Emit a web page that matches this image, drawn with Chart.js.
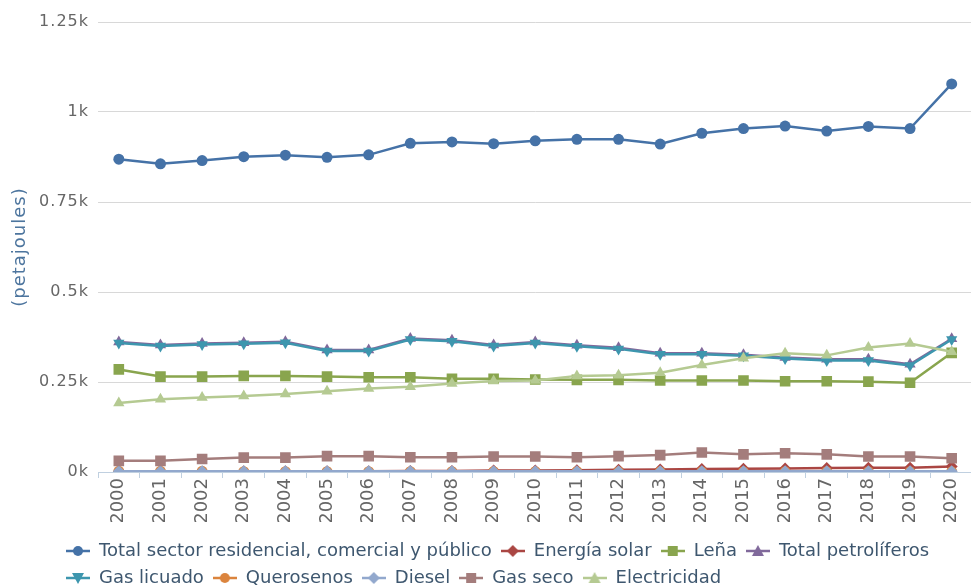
<!DOCTYPE html>
<html>
<head>
<meta charset="utf-8">
<script src="https://cdn.jsdelivr.net/npm/chart.js@4/dist/chart.umd.min.js"></script>
<style>
  html, body { margin: 0; padding: 0; background: #fff; overflow: hidden; }
  #wrap { width: 980px; height: 586px; }
</style>
</head>
<body>
<div id="wrap"><canvas id="energyChart"></canvas></div>
<script>
const years = ["2000", "2001", "2002", "2003", "2004", "2005", "2006", "2007", "2008", "2009", "2010",
  "2011", "2012", "2013", "2014", "2015", "2016", "2017", "2018", "2019", "2020"];

const totalSector = [869, 856, 865, 876, 880, 874, 881, 913, 917, 912, 920, 924, 924, 911, 941, 954, 961, 947, 960, 954, 1078];
const energiaSolar = [1, 1, 1, 2, 2, 2, 2, 3, 3, 4, 4, 5, 6, 7, 8, 9, 10, 11, 12, 12, 15];
const lena = [285, 265, 265, 267, 267, 265, 263, 263, 259, 259, 257, 256, 256, 254, 254, 254, 252, 252, 251, 248, 331];
const totalPetroliferos = [361, 353, 357, 359, 362, 339, 339, 371, 366, 353, 361, 352, 345, 330, 330, 326, 318, 313, 313, 299, 370];
const gasLicuado = [358, 350, 354, 356, 359, 336, 336, 368, 363, 350, 358, 349, 342, 327, 327, 323, 315, 310, 310, 296, 368];
const querosenos = [2, 2, 2, 1, 1, 1, 1, 1, 1, 1, 1, 1, 1, 1, 1, 1, 1, 1, 1, 1, 1];
const diesel = [2, 2, 2, 2, 2, 2, 2, 2, 2, 2, 2, 2, 2, 2, 2, 2, 2, 2, 2, 2, 2];
const gasSeco = [31, 31, 36, 40, 40, 44, 44, 41, 41, 43, 43, 41, 44, 47, 54, 49, 52, 49, 43, 43, 38];
const electricidad = [192, 202, 207, 211, 217, 224, 232, 237, 246, 253, 254, 267, 269, 276, 297, 316, 330, 324, 346, 357, 334];

const series = [
  { label: "Total sector residencial, comercial y público", data: totalSector, color: "#4572A7", shape: "circle" },
  { label: "Energía solar", data: energiaSolar, color: "#AA4643", shape: "diamond" },
  { label: "Leña", data: lena, color: "#89A54E", shape: "square" },
  { label: "Total petrolíferos", data: totalPetroliferos, color: "#80699B", shape: "triangle" },
  { label: "Gas licuado", data: gasLicuado, color: "#3D96AE", shape: "triangleDown" },
  { label: "Querosenos", data: querosenos, color: "#DB843D", shape: "circle" },
  { label: "Diesel", data: diesel, color: "#92A8CD", shape: "diamond" },
  { label: "Gas seco", data: gasSeco, color: "#A47D7C", shape: "square" },
  { label: "Electricidad", data: electricidad, color: "#B5CA92", shape: "triangle" }
];

// chart.js point style, rotation, radius for each marker shape
const markerStyles = {
  circle: ["circle", 0, 5.5],
  diamond: ["rectRot", 0, 6],
  square: ["rect", 0, 7.5],
  triangle: ["triangle", 0, 6.5],
  triangleDown: ["triangle", 180, 6.5]
};

const fontFamily = "'DejaVu Sans', 'Liberation Sans', sans-serif";

function drawMarker(g, shape, x, y) {
  g.beginPath();
  if (shape === "circle") {
    g.arc(x, y, 5, 0, Math.PI * 2);
  } else if (shape === "diamond") {
    g.moveTo(x, y - 6); g.lineTo(x + 6, y); g.lineTo(x, y + 6); g.lineTo(x - 6, y);
  } else if (shape === "square") {
    g.rect(x - 5, y - 5, 10, 10);
  } else if (shape === "triangle") {
    g.moveTo(x, y - 6); g.lineTo(x + 6, y + 5); g.lineTo(x - 6, y + 5);
  } else {
    g.moveTo(x, y + 6); g.lineTo(x + 6, y - 5); g.lineTo(x - 6, y - 5);
  }
  g.closePath();
  g.fill();
}

// legend symbol: short line with the marker on it
function legendSymbol(color, shape) {
  const c = document.createElement("canvas");
  c.width = 24;
  c.height = 16;
  const g = c.getContext("2d");
  g.strokeStyle = color;
  g.fillStyle = color;
  g.lineWidth = 2.5;
  g.beginPath();
  g.moveTo(0, 8);
  g.lineTo(24, 8);
  g.stroke();
  drawMarker(g, shape, 12, 8);
  return c;
}

const symbols = series.map(s => legendSymbol(s.color, s.shape));

const datasets = series.map((s, i) => {
  const [style, rot, radius] = markerStyles[s.shape];
  return {
    label: s.label,
    data: s.data,
    borderColor: s.color,
    backgroundColor: s.color,
    borderWidth: 2.5,
    pointStyle: style,
    pointRotation: rot,
    pointRadius: radius,
    pointBorderWidth: 0,
    pointBackgroundColor: s.color,
    tension: 0,
    order: -i
  };
});

// put the legend where the reference has it
const legendPlace = {
  id: "legendPlace",
  afterLayout(chart) {
    chart.legend.left = 57;
    chart.legend.top = 533;
  }
};

// y axis texts in the reference are a bit letter-spaced
const spacedText = {
  id: "spacedText",
  beforeDraw(chart) {
    const ctx = chart.ctx;
    const s = chart.scales.y;
    if (s._spaced) return;
    s._spaced = true;
    const labels = s.drawLabels.bind(s);
    const title = s.drawTitle.bind(s);
    s.drawLabels = (area) => { ctx.save(); ctx.letterSpacing = "1px"; labels(area); ctx.restore(); };
    s.drawTitle = () => { ctx.save(); ctx.letterSpacing = "1px"; title(); ctx.restore(); };
  }
};

new Chart(document.getElementById("energyChart"), {
  type: "line",
  data: { labels: years, datasets },
  plugins: [legendPlace, spacedText],
  options: {
    responsive: true,
    maintainAspectRatio: false,
    animation: false,
    events: [],
    layout: { padding: { top: 22, right: 0, bottom: 0, left: 0 } },
    plugins: {
      tooltip: { enabled: false },
      legend: {
        position: "bottom",
        align: "start",
        labels: {
          usePointStyle: true,
          pointStyleWidth: 24,
          padding: 9,
          color: "#3E576F",
          font: { family: fontFamily, size: 18 },
          generateLabels: (chart) => chart.data.datasets.map((ds, i) => ({
            text: ds.label,
            pointStyle: symbols[i],
            fillStyle: ds.borderColor,
            strokeStyle: ds.borderColor,
            lineWidth: 0,
            hidden: false,
            fontColor: "#3E576F",
            datasetIndex: i
          }))
        }
      }
    },
    scales: {
      x: {
        offset: true,
        grid: { drawOnChartArea: false, drawTicks: true, tickLength: 6, color: "#C0D0E0", offset: true },
        border: { color: "#C0D0E0", width: 1 },
        ticks: {
          color: "#666",
          font: { family: fontFamily, size: 18 },
          minRotation: 90,
          maxRotation: 90,
          padding: 0,
          autoSkip: false
        },
        afterFit: (s) => { s.height = 50; }
      },
      y: {
        min: 0,
        max: 1250,
        grid: { color: "#D8D8D8", drawTicks: false },
        border: { display: false },
        ticks: {
          stepSize: 250,
          padding: 9,
          color: "#666",
          font: { family: fontFamily, size: 16 },
          callback: (v) => (v / 1000) + "k"
        },
        title: {
          display: true,
          text: "(petajoules)",
          color: "#4d759e",
          font: { family: fontFamily, size: 18 },
          padding: { top: 10, bottom: 0 }
        },
        afterFit: (s) => { s.width = 98; }
      }
    }
  }
});
</script>
</body>
</html>
